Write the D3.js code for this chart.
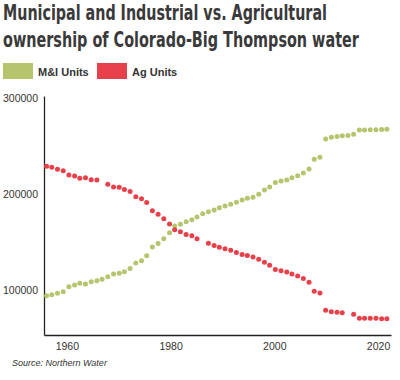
<!DOCTYPE html>
<html>
<head>
<meta charset="utf-8">
<script src="https://cdn.jsdelivr.net/npm/d3@7"></script>
<style>
  body { margin: 0; background: #fff; }
  svg { display: block; font-family: "Liberation Sans", Arial, sans-serif; }
</style>
</head>
<body>
<svg id="chart" width="400" height="380"></svg>
<script>
// positions on the time axis
const years = [1956.1, 1957.1, 1958.2, 1959.3, 1960.4, 1961.5, 1962.5, 1963.6, 1964.7, 1965.8,
  1966.8, 1967.9, 1969.0, 1970.1, 1971.1, 1972.2, 1973.3, 1974.4, 1975.4, 1976.5,
  1977.6, 1978.7, 1979.8, 1980.8, 1981.9, 1983.0, 1984.1, 1985.1, 1986.2, 1987.3,
  1988.4, 1989.4, 1990.5, 1991.6, 1992.7, 1993.8, 1994.8, 1995.9, 1997.0, 1998.1,
  1999.1, 2000.2, 2001.3, 2002.4, 2003.4, 2004.5, 2005.6, 2006.7, 2007.7, 2008.8,
  2009.9, 2011.0, 2012.1, 2013.1, 2014.2, 2015.3, 2016.4, 2017.4, 2018.5, 2019.6,
  2020.7, 2021.7]

const miUnits = [94400, 95400, 96900, 98500, 103700, 105500, 107300, 106600, 109000, 110000,
  111500, 114200, 117000, 117700, 119400, 122700, 128400, 130800, 136000, 145100,
  148700, 153700, 159900, 167000, 168700, 171500, 173500, 176400, 179800, 181900,
  183600, 186000, 187800, 189600, 191700, 194100, 195800, 196900, 200000, 204500,
  207600, 212300, 213900, 214900, 217300, 219300, 222200, 226400, 236500, 238500,
  257600, 259400, 260200, 260900, 261300, 262600, 267000, 267000, 267200, 267200,
  267500, 267700]

const agUnits = [229200, 228100, 226000, 224600, 220100, 219100, 216700, 217300, 215200, 214900,
  null, 210400, 207600, 207300, 205000, 202900, 197400, 195300, 191500, 182800,
  179300, 174600, 169100, 163000, 160900, 158100, 156900, 153700, null, 149000,
  146700, 144800, 143200, 141800, 139400, 137300, 136200, 134700, 132400, 129200,
  126000, 121700, 120300, 119000, 117000, 114900, 112300, 108300, 99000, 97200,
  79300, 77700, 77200, 76700, null, 75100, 70900, 70900, 70800, 70800,
  70400, 70400]

const xTicks = [1960, 1980, 2000, 2020]
const yTicks = [100000, 200000, 300000]
const seriesNames = ['M&I Units', 'Ag Units']
const titleLines = ['Municipal and Industrial vs. Agricultural', 'ownership of Colorado-Big Thompson water']
const sourceText = 'Source: Northern Water'

const svg = d3.select('#chart')
const textColor = '#333'

const color = d3.scaleOrdinal()
  .domain(seriesNames)
  .range(['#b6c56d', '#e8404a'])

const x = d3.scaleLinear()
  .domain([1955.6, 2022.5])
  .range([44, 391])

const y = d3.scaleLinear()
  .domain([53400, 302400])
  .range([335, 96])

// title, squeezed horizontally to the width of the condensed original
const titleWidths = [324, 356]
svg.append('g')
  .selectAll('text')
  .data(titleLines)
  .enter().append('text')
  .style('font-family', '"Liberation Sans Narrow", "DejaVu Sans Condensed", "Liberation Sans", sans-serif')
  .style('font-weight', 'bold')
  .style('font-size', '22px')
  .style('fill', '#3a3a3a')
  .text(d => d)
  .attr('transform', function (d, i) {
    const w = this.getComputedTextLength()
    return `translate(3,${20 + i * 27}) scale(${titleWidths[i] / w},1)`
  })

// legend
const legend = svg.selectAll('.legend')
  .data(seriesNames)
  .enter().append('g')
  .attr('class', 'legend')
  .attr('transform', (d, i) => `translate(${3 + i * 94},63)`)

legend.append('rect')
  .attr('width', 30)
  .attr('height', 16)
  .style('fill', d => color(d))

legend.append('text')
  .attr('x', 35)
  .attr('y', 12.5)
  .style('font-size', '11px')
  .style('font-weight', 'bold')
  .style('fill', textColor)
  .text(d => d)

// axes
svg.append('g')
  .attr('transform', 'translate(44,0)')
  .call(d3.axisLeft(y).tickValues(yTicks).tickFormat(d => d).tickSize(0).tickPadding(6))

svg.append('g')
  .attr('transform', 'translate(0,335)')
  .call(d3.axisBottom(x).tickValues(xTicks).tickFormat(d3.format('d')).tickSize(0).tickPadding(8))

svg.selectAll('.domain')
  .style('stroke', '#222')
  .style('stroke-width', 1.3)

svg.selectAll('.tick text')
  .style('font-family', '"Liberation Sans", Arial, sans-serif')
  .style('font-size', '10.5px')
  .style('fill', textColor)

// dots
const series = [miUnits, agUnits]
series.forEach((values, s) => {
  const pts = years.map((yr, i) => ({ year: yr, value: values[i] }))
    .filter(d => d.value != null)
  svg.append('g')
    .selectAll('circle')
    .data(pts)
    .enter().append('circle')
    .attr('cx', d => x(d.year))
    .attr('cy', d => y(d.value))
    .attr('r', 2.5)
    .style('fill', color(seriesNames[s]))
})

// source
svg.append('text')
  .attr('x', 12)
  .attr('y', 366)
  .style('font-size', '9px')
  .style('font-style', 'italic')
  .style('fill', textColor)
  .text(sourceText)
</script>
</body>
</html>
